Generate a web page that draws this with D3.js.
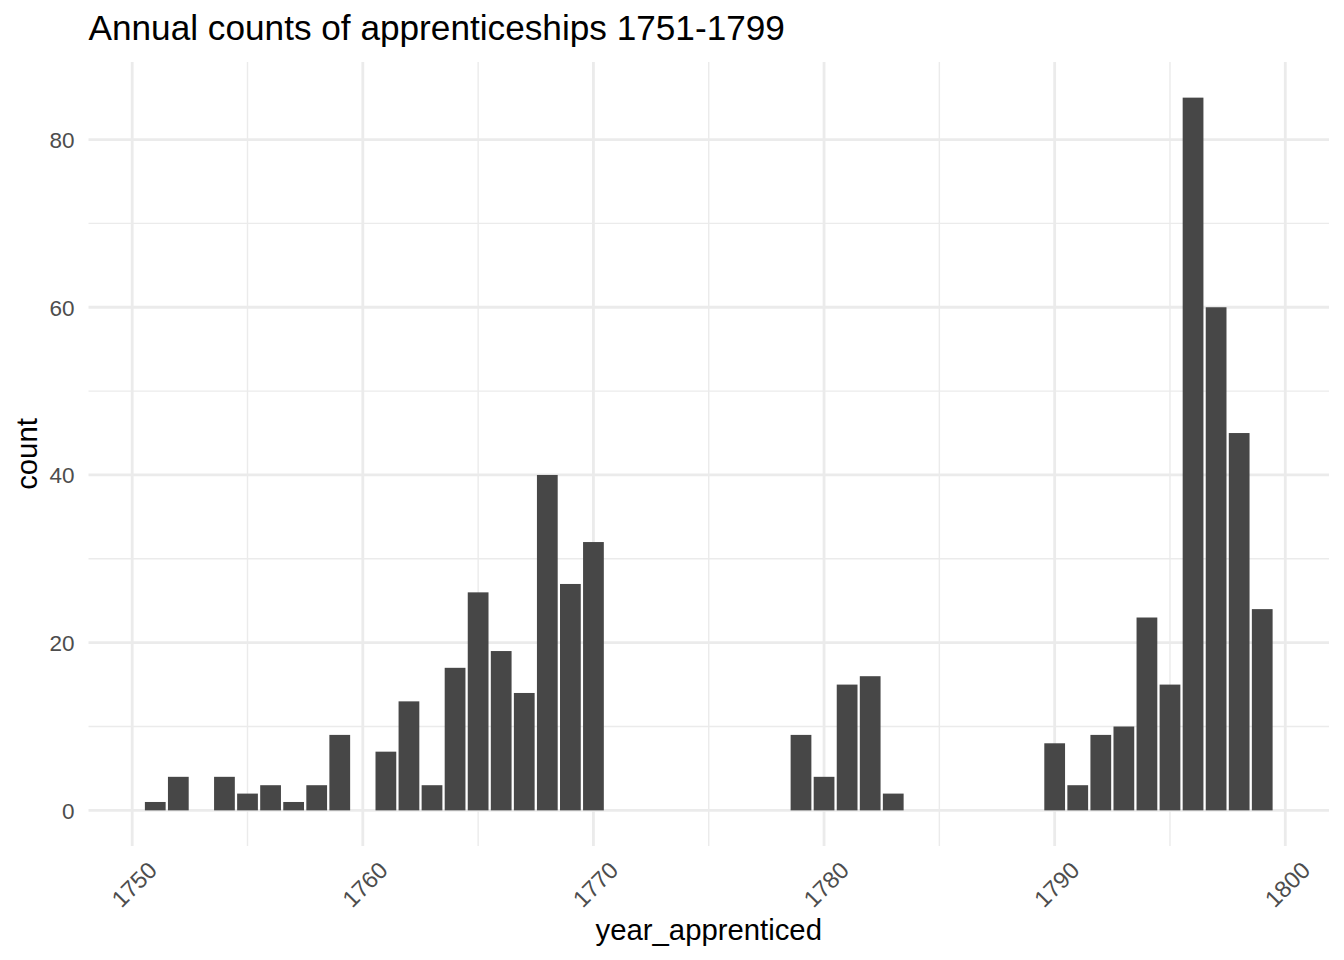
<!DOCTYPE html>
<html>
<head>
<meta charset="utf-8">
<script src="https://cdn.jsdelivr.net/npm/d3@7"></script>
<style>
body { margin: 0; background: #fff; }
text { font-family: "Liberation Sans", Arial, sans-serif; }
</style>
</head>
<body>
<svg width="1344" height="960"></svg>
<script>
// counts per year
var years  = [1751, 1752, 1754, 1755, 1756, 1757, 1758, 1759,
              1761, 1762, 1763, 1764, 1765, 1766, 1767, 1768, 1769, 1770,
              1779, 1780, 1781, 1782, 1783,
              1790, 1791, 1792, 1793, 1794, 1795, 1796, 1797, 1798, 1799];
var counts = [1, 4, 4, 2, 3, 1, 3, 9,
              7, 13, 3, 17, 26, 19, 14, 40, 27, 32,
              9, 4, 15, 16, 2,
              8, 3, 9, 10, 23, 15, 85, 60, 45, 24];
var xMajor = [1750, 1760, 1770, 1780, 1790, 1800];
var xMinor = [1755, 1765, 1775, 1785, 1795];
var yMajor = [0, 20, 40, 60, 80];
var yMinor = [10, 30, 50, 70];

var data = years.map(function(y, i) { return {year: y, n: counts[i]}; });

var svg = d3.select("svg"),
    pLeft = 88.5, pRight = 1329, pTop = 62, pBottom = 846;

// ggplot style 5% expansion
var x0 = d3.min(years) - 0.45, x1 = d3.max(years) + 0.45,
    xPad = (x1 - x0) * 0.05;
var xScale = d3.scaleLinear().domain([x0 - xPad, x1 + xPad]).range([pLeft, pRight]);
var yMax = d3.max(counts), yPad = yMax * 0.05;
var yScale = d3.scaleLinear().domain([-yPad, yMax + yPad]).range([pBottom, pTop]);

var grid = svg.append("g");
grid.selectAll(".ymin").data(yMinor).enter().append("line")
  .attr("x1", pLeft).attr("x2", pRight)
  .attr("y1", yScale).attr("y2", yScale)
  .attr("stroke", "#EBEBEB").attr("stroke-width", 1.4);
grid.selectAll(".xmin").data(xMinor).enter().append("line")
  .attr("y1", pTop).attr("y2", pBottom)
  .attr("x1", xScale).attr("x2", xScale)
  .attr("stroke", "#EBEBEB").attr("stroke-width", 1.4);
grid.selectAll(".ymaj").data(yMajor).enter().append("line")
  .attr("x1", pLeft).attr("x2", pRight)
  .attr("y1", yScale).attr("y2", yScale)
  .attr("stroke", "#EBEBEB").attr("stroke-width", 2.8);
grid.selectAll(".xmaj").data(xMajor).enter().append("line")
  .attr("y1", pTop).attr("y2", pBottom)
  .attr("x1", xScale).attr("x2", xScale)
  .attr("stroke", "#EBEBEB").attr("stroke-width", 2.8);

// bars, width 0.9 of a year
svg.selectAll(".bar")
  .data(data)
  .enter().append("rect")
  .attr("x", function(d) { return xScale(d.year - 0.45); })
  .attr("width", function(d) { return xScale(d.year + 0.45) - xScale(d.year - 0.45); })
  .attr("y", function(d) { return yScale(d.n); })
  .attr("height", function(d) { return yScale(0) - yScale(d.n); })
  .attr("fill", "#474747");

// y axis labels
var gy = svg.append("g")
  .attr("transform", "translate(" + (pLeft - 14) + ",0)")
  .call(d3.axisLeft(yScale).tickValues(yMajor).tickSize(0).tickPadding(0));
gy.select(".domain").remove();
gy.selectAll("text")
  .attr("font-family", "Liberation Sans, Arial, sans-serif")
  .attr("font-size", "22.5px")
  .attr("fill", "#4D4D4D")
  .attr("dy", "0.35em");

// x axis labels, rotated 45
var gx = svg.append("g")
  .attr("transform", "translate(0," + (pBottom + 20) + ")")
  .call(d3.axisBottom(xScale).tickValues(xMajor).tickFormat(d3.format("d")).tickSize(0));
gx.select(".domain").remove();
gx.selectAll("text")
  .attr("font-family", "Liberation Sans, Arial, sans-serif")
  .attr("font-size", "23.5px")
  .attr("fill", "#4D4D4D")
  .attr("text-anchor", "end")
  .attr("y", 0)
  .attr("dy", "0.35em")
  .attr("transform", "translate(20,0) rotate(-45)");

svg.append("text")
  .attr("x", (pLeft + pRight) / 2)
  .attr("y", 940)
  .attr("text-anchor", "middle")
  .attr("font-size", "29.3px")
  .attr("fill", "#000")
  .text("year_apprenticed");

svg.append("text")
  .attr("transform", "translate(37," + ((pTop + pBottom) / 2) + ") rotate(-90)")
  .attr("text-anchor", "middle")
  .attr("font-size", "29.3px")
  .attr("fill", "#000")
  .text("count");

svg.append("text")
  .attr("x", pLeft)
  .attr("y", 40)
  .attr("font-size", "35.2px")
  .attr("fill", "#000")
  .text("Annual counts of apprenticeships 1751-1799");
</script>
</body>
</html>
